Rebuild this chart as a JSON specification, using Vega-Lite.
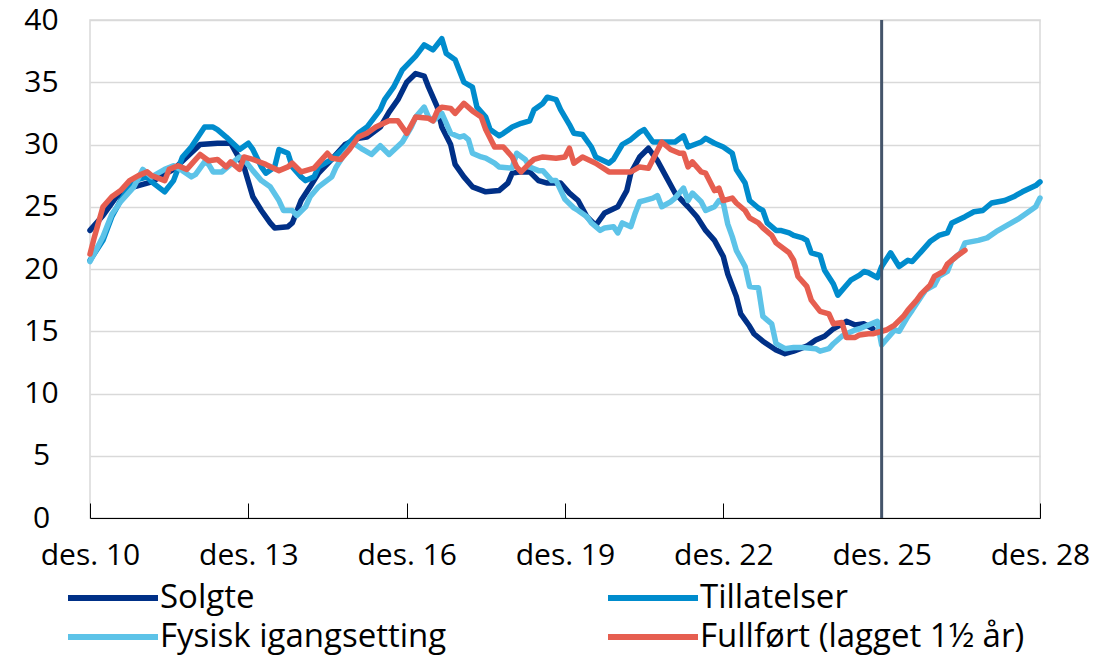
{
  "$schema": "https://vega.github.io/schema/vega-lite/v6.json",
  "autosize": {"type": "none"},
  "width": 950,
  "height": 498,
  "padding": {"left": 90, "top": 20, "right": 59, "bottom": 141},
  "background": "white",
  "config": {
    "font": "Open Sans",
    "view": {"stroke": "#d9d9d9", "strokeWidth": 1.5}
  },
  "datasets": {
    "series": [
      {"d":"2010-12","s":"Solgte","v":23.1},{"d":"2011-03","s":"Solgte","v":24.3},{"d":"2011-06","s":"Solgte","v":25.8},{"d":"2011-10","s":"Solgte","v":26.6},{"d":"2012-02","s":"Solgte","v":27.0},{"d":"2012-07","s":"Solgte","v":28.0},{"d":"2012-10","s":"Solgte","v":29.0},{"d":"2013-01","s":"Solgte","v":30.0},{"d":"2013-05","s":"Solgte","v":30.1},{"d":"2013-08","s":"Solgte","v":30.1},{"d":"2013-11","s":"Solgte","v":28.2},{"d":"2014-01","s":"Solgte","v":25.8},{"d":"2014-03","s":"Solgte","v":24.7},{"d":"2014-05","s":"Solgte","v":23.7},{"d":"2014-06","s":"Solgte","v":23.3},{"d":"2014-09","s":"Solgte","v":23.4},{"d":"2014-10","s":"Solgte","v":23.7},{"d":"2014-12","s":"Solgte","v":25.5},{"d":"2015-02","s":"Solgte","v":26.6},{"d":"2015-04","s":"Solgte","v":27.7},{"d":"2015-07","s":"Solgte","v":28.8},{"d":"2015-10","s":"Solgte","v":30.0},{"d":"2016-01","s":"Solgte","v":30.5},{"d":"2016-03","s":"Solgte","v":30.6},{"d":"2016-06","s":"Solgte","v":31.4},{"d":"2016-08","s":"Solgte","v":32.6},{"d":"2016-10","s":"Solgte","v":33.6},{"d":"2016-12","s":"Solgte","v":35.0},{"d":"2017-02","s":"Solgte","v":35.7},{"d":"2017-04","s":"Solgte","v":35.5},{"d":"2017-05","s":"Solgte","v":34.6},{"d":"2017-07","s":"Solgte","v":33.0},{"d":"2017-08","s":"Solgte","v":31.4},{"d":"2017-10","s":"Solgte","v":30.0},{"d":"2017-11","s":"Solgte","v":28.4},{"d":"2018-01","s":"Solgte","v":27.4},{"d":"2018-03","s":"Solgte","v":26.6},{"d":"2018-06","s":"Solgte","v":26.2},{"d":"2018-09","s":"Solgte","v":26.3},{"d":"2018-11","s":"Solgte","v":26.9},{"d":"2018-12","s":"Solgte","v":27.7},{"d":"2019-02","s":"Solgte","v":27.8},{"d":"2019-04","s":"Solgte","v":27.8},{"d":"2019-06","s":"Solgte","v":27.1},{"d":"2019-08","s":"Solgte","v":26.9},{"d":"2019-11","s":"Solgte","v":26.9},{"d":"2020-01","s":"Solgte","v":26.1},{"d":"2020-03","s":"Solgte","v":25.5},{"d":"2020-05","s":"Solgte","v":24.2},{"d":"2020-07","s":"Solgte","v":23.5},{"d":"2020-09","s":"Solgte","v":24.5},{"d":"2020-12","s":"Solgte","v":25.0},{"d":"2021-02","s":"Solgte","v":26.3},{"d":"2021-03","s":"Solgte","v":27.7},{"d":"2021-05","s":"Solgte","v":29.0},{"d":"2021-07","s":"Solgte","v":29.7},{"d":"2021-09","s":"Solgte","v":28.7},{"d":"2021-11","s":"Solgte","v":27.4},{"d":"2022-01","s":"Solgte","v":26.1},{"d":"2022-04","s":"Solgte","v":25.0},{"d":"2022-06","s":"Solgte","v":24.2},{"d":"2022-08","s":"Solgte","v":23.1},{"d":"2022-10","s":"Solgte","v":22.3},{"d":"2022-12","s":"Solgte","v":21.0},{"d":"2023-01","s":"Solgte","v":19.6},{"d":"2023-03","s":"Solgte","v":17.8},{"d":"2023-04","s":"Solgte","v":16.4},{"d":"2023-06","s":"Solgte","v":15.4},{"d":"2023-07","s":"Solgte","v":14.8},{"d":"2023-09","s":"Solgte","v":14.2},{"d":"2023-12","s":"Solgte","v":13.5},{"d":"2024-02","s":"Solgte","v":13.2},{"d":"2024-04","s":"Solgte","v":13.4},{"d":"2024-07","s":"Solgte","v":13.8},{"d":"2024-09","s":"Solgte","v":14.3},{"d":"2024-11","s":"Solgte","v":14.6},{"d":"2025-01","s":"Solgte","v":15.2},{"d":"2025-04","s":"Solgte","v":15.8},{"d":"2025-06","s":"Solgte","v":15.5},{"d":"2025-08","s":"Solgte","v":15.6},{"d":"2025-10","s":"Solgte","v":15.2},
      {"d":"2010-12","s":"Tillatelser","v":20.7},{"d":"2011-03","s":"Tillatelser","v":22.3},{"d":"2011-05","s":"Tillatelser","v":24.2},{"d":"2011-07","s":"Tillatelser","v":25.5},{"d":"2011-10","s":"Tillatelser","v":27.1},{"d":"2012-01","s":"Tillatelser","v":27.4},{"d":"2012-02","s":"Tillatelser","v":27.0},{"d":"2012-05","s":"Tillatelser","v":26.2},{"d":"2012-07","s":"Tillatelser","v":27.1},{"d":"2012-09","s":"Tillatelser","v":29.0},{"d":"2012-11","s":"Tillatelser","v":29.8},{"d":"2013-02","s":"Tillatelser","v":31.4},{"d":"2013-04","s":"Tillatelser","v":31.4},{"d":"2013-05","s":"Tillatelser","v":31.2},{"d":"2013-07","s":"Tillatelser","v":30.6},{"d":"2013-10","s":"Tillatelser","v":29.6},{"d":"2013-12","s":"Tillatelser","v":30.1},{"d":"2014-01","s":"Tillatelser","v":29.6},{"d":"2014-03","s":"Tillatelser","v":28.2},{"d":"2014-04","s":"Tillatelser","v":27.7},{"d":"2014-06","s":"Tillatelser","v":28.2},{"d":"2014-07","s":"Tillatelser","v":29.6},{"d":"2014-09","s":"Tillatelser","v":29.3},{"d":"2014-10","s":"Tillatelser","v":28.2},{"d":"2014-12","s":"Tillatelser","v":27.4},{"d":"2015-01","s":"Tillatelser","v":27.1},{"d":"2015-03","s":"Tillatelser","v":27.4},{"d":"2015-04","s":"Tillatelser","v":28.2},{"d":"2015-07","s":"Tillatelser","v":28.8},{"d":"2015-10","s":"Tillatelser","v":29.8},{"d":"2016-01","s":"Tillatelser","v":30.9},{"d":"2016-03","s":"Tillatelser","v":31.4},{"d":"2016-06","s":"Tillatelser","v":32.8},{"d":"2016-07","s":"Tillatelser","v":33.6},{"d":"2016-09","s":"Tillatelser","v":34.6},{"d":"2016-11","s":"Tillatelser","v":36.0},{"d":"2017-02","s":"Tillatelser","v":37.1},{"d":"2017-04","s":"Tillatelser","v":38.0},{"d":"2017-06","s":"Tillatelser","v":37.6},{"d":"2017-08","s":"Tillatelser","v":38.5},{"d":"2017-09","s":"Tillatelser","v":37.3},{"d":"2017-11","s":"Tillatelser","v":36.8},{"d":"2018-01","s":"Tillatelser","v":35.0},{"d":"2018-03","s":"Tillatelser","v":34.6},{"d":"2018-04","s":"Tillatelser","v":33.0},{"d":"2018-06","s":"Tillatelser","v":32.2},{"d":"2018-07","s":"Tillatelser","v":31.2},{"d":"2018-09","s":"Tillatelser","v":30.7},{"d":"2018-10","s":"Tillatelser","v":30.9},{"d":"2018-12","s":"Tillatelser","v":31.4},{"d":"2019-02","s":"Tillatelser","v":31.7},{"d":"2019-04","s":"Tillatelser","v":31.9},{"d":"2019-05","s":"Tillatelser","v":32.8},{"d":"2019-07","s":"Tillatelser","v":33.3},{"d":"2019-08","s":"Tillatelser","v":33.8},{"d":"2019-10","s":"Tillatelser","v":33.6},{"d":"2019-11","s":"Tillatelser","v":32.8},{"d":"2020-01","s":"Tillatelser","v":31.6},{"d":"2020-02","s":"Tillatelser","v":30.9},{"d":"2020-04","s":"Tillatelser","v":30.8},{"d":"2020-06","s":"Tillatelser","v":29.8},{"d":"2020-07","s":"Tillatelser","v":29.0},{"d":"2020-10","s":"Tillatelser","v":28.5},{"d":"2020-11","s":"Tillatelser","v":28.8},{"d":"2021-01","s":"Tillatelser","v":30.0},{"d":"2021-03","s":"Tillatelser","v":30.4},{"d":"2021-05","s":"Tillatelser","v":31.0},{"d":"2021-06","s":"Tillatelser","v":31.2},{"d":"2021-08","s":"Tillatelser","v":30.2},{"d":"2021-10","s":"Tillatelser","v":30.2},{"d":"2022-01","s":"Tillatelser","v":30.2},{"d":"2022-03","s":"Tillatelser","v":30.7},{"d":"2022-04","s":"Tillatelser","v":29.8},{"d":"2022-07","s":"Tillatelser","v":30.2},{"d":"2022-08","s":"Tillatelser","v":30.5},{"d":"2022-10","s":"Tillatelser","v":30.1},{"d":"2022-12","s":"Tillatelser","v":29.8},{"d":"2023-02","s":"Tillatelser","v":29.3},{"d":"2023-03","s":"Tillatelser","v":28.0},{"d":"2023-05","s":"Tillatelser","v":26.9},{"d":"2023-06","s":"Tillatelser","v":25.5},{"d":"2023-08","s":"Tillatelser","v":24.9},{"d":"2023-09","s":"Tillatelser","v":24.7},{"d":"2023-10","s":"Tillatelser","v":23.7},{"d":"2023-12","s":"Tillatelser","v":23.1},{"d":"2024-01","s":"Tillatelser","v":23.1},{"d":"2024-03","s":"Tillatelser","v":22.9},{"d":"2024-04","s":"Tillatelser","v":22.7},{"d":"2024-06","s":"Tillatelser","v":22.5},{"d":"2024-07","s":"Tillatelser","v":22.3},{"d":"2024-08","s":"Tillatelser","v":21.3},{"d":"2024-10","s":"Tillatelser","v":21.1},{"d":"2024-11","s":"Tillatelser","v":19.9},{"d":"2025-01","s":"Tillatelser","v":18.8},{"d":"2025-02","s":"Tillatelser","v":17.9},{"d":"2025-04","s":"Tillatelser","v":18.7},{"d":"2025-05","s":"Tillatelser","v":19.1},{"d":"2025-07","s":"Tillatelser","v":19.5},{"d":"2025-08","s":"Tillatelser","v":19.8},{"d":"2025-09","s":"Tillatelser","v":19.7},{"d":"2025-11","s":"Tillatelser","v":19.3},{"d":"2025-12","s":"Tillatelser","v":20.2},{"d":"2026-02","s":"Tillatelser","v":21.3},{"d":"2026-04","s":"Tillatelser","v":20.2},{"d":"2026-06","s":"Tillatelser","v":20.7},{"d":"2026-07","s":"Tillatelser","v":20.6},{"d":"2026-09","s":"Tillatelser","v":21.4},{"d":"2026-11","s":"Tillatelser","v":22.2},{"d":"2027-01","s":"Tillatelser","v":22.7},{"d":"2027-03","s":"Tillatelser","v":22.9},{"d":"2027-04","s":"Tillatelser","v":23.7},{"d":"2027-07","s":"Tillatelser","v":24.2},{"d":"2027-09","s":"Tillatelser","v":24.6},{"d":"2027-11","s":"Tillatelser","v":24.7},{"d":"2028-01","s":"Tillatelser","v":25.3},{"d":"2028-04","s":"Tillatelser","v":25.5},{"d":"2028-06","s":"Tillatelser","v":25.8},{"d":"2028-08","s":"Tillatelser","v":26.2},{"d":"2028-11","s":"Tillatelser","v":26.7},{"d":"2028-12","s":"Tillatelser","v":27.0},
      {"d":"2010-12","s":"Fysisk igangsetting","v":20.6},{"d":"2011-03","s":"Fysisk igangsetting","v":22.6},{"d":"2011-05","s":"Fysisk igangsetting","v":24.4},{"d":"2011-07","s":"Fysisk igangsetting","v":25.4},{"d":"2011-10","s":"Fysisk igangsetting","v":26.6},{"d":"2011-12","s":"Fysisk igangsetting","v":28.0},{"d":"2012-02","s":"Fysisk igangsetting","v":27.4},{"d":"2012-04","s":"Fysisk igangsetting","v":27.8},{"d":"2012-05","s":"Fysisk igangsetting","v":28.0},{"d":"2012-07","s":"Fysisk igangsetting","v":28.3},{"d":"2012-09","s":"Fysisk igangsetting","v":27.9},{"d":"2012-11","s":"Fysisk igangsetting","v":27.4},{"d":"2012-12","s":"Fysisk igangsetting","v":27.6},{"d":"2013-02","s":"Fysisk igangsetting","v":28.6},{"d":"2013-03","s":"Fysisk igangsetting","v":28.4},{"d":"2013-04","s":"Fysisk igangsetting","v":27.8},{"d":"2013-06","s":"Fysisk igangsetting","v":27.8},{"d":"2013-08","s":"Fysisk igangsetting","v":28.4},{"d":"2013-10","s":"Fysisk igangsetting","v":29.0},{"d":"2013-11","s":"Fysisk igangsetting","v":28.8},{"d":"2014-01","s":"Fysisk igangsetting","v":27.9},{"d":"2014-03","s":"Fysisk igangsetting","v":27.1},{"d":"2014-05","s":"Fysisk igangsetting","v":26.6},{"d":"2014-07","s":"Fysisk igangsetting","v":25.5},{"d":"2014-08","s":"Fysisk igangsetting","v":24.7},{"d":"2014-10","s":"Fysisk igangsetting","v":24.7},{"d":"2014-11","s":"Fysisk igangsetting","v":24.3},{"d":"2015-01","s":"Fysisk igangsetting","v":25.0},{"d":"2015-02","s":"Fysisk igangsetting","v":25.8},{"d":"2015-04","s":"Fysisk igangsetting","v":26.6},{"d":"2015-07","s":"Fysisk igangsetting","v":27.4},{"d":"2015-08","s":"Fysisk igangsetting","v":28.2},{"d":"2015-10","s":"Fysisk igangsetting","v":29.3},{"d":"2015-12","s":"Fysisk igangsetting","v":30.1},{"d":"2016-02","s":"Fysisk igangsetting","v":29.6},{"d":"2016-04","s":"Fysisk igangsetting","v":29.2},{"d":"2016-06","s":"Fysisk igangsetting","v":29.9},{"d":"2016-08","s":"Fysisk igangsetting","v":29.2},{"d":"2016-11","s":"Fysisk igangsetting","v":30.2},{"d":"2017-01","s":"Fysisk igangsetting","v":31.4},{"d":"2017-02","s":"Fysisk igangsetting","v":32.2},{"d":"2017-04","s":"Fysisk igangsetting","v":33.0},{"d":"2017-05","s":"Fysisk igangsetting","v":32.2},{"d":"2017-06","s":"Fysisk igangsetting","v":31.9},{"d":"2017-08","s":"Fysisk igangsetting","v":32.5},{"d":"2017-09","s":"Fysisk igangsetting","v":31.7},{"d":"2017-10","s":"Fysisk igangsetting","v":30.9},{"d":"2017-12","s":"Fysisk igangsetting","v":30.6},{"d":"2018-01","s":"Fysisk igangsetting","v":30.7},{"d":"2018-02","s":"Fysisk igangsetting","v":30.4},{"d":"2018-03","s":"Fysisk igangsetting","v":29.3},{"d":"2018-05","s":"Fysisk igangsetting","v":29.0},{"d":"2018-06","s":"Fysisk igangsetting","v":28.9},{"d":"2018-08","s":"Fysisk igangsetting","v":28.5},{"d":"2018-09","s":"Fysisk igangsetting","v":28.2},{"d":"2018-12","s":"Fysisk igangsetting","v":28.1},{"d":"2019-01","s":"Fysisk igangsetting","v":29.3},{"d":"2019-03","s":"Fysisk igangsetting","v":28.8},{"d":"2019-04","s":"Fysisk igangsetting","v":28.2},{"d":"2019-06","s":"Fysisk igangsetting","v":27.9},{"d":"2019-07","s":"Fysisk igangsetting","v":27.9},{"d":"2019-09","s":"Fysisk igangsetting","v":27.1},{"d":"2019-10","s":"Fysisk igangsetting","v":27.1},{"d":"2019-12","s":"Fysisk igangsetting","v":25.6},{"d":"2020-02","s":"Fysisk igangsetting","v":24.9},{"d":"2020-03","s":"Fysisk igangsetting","v":24.7},{"d":"2020-05","s":"Fysisk igangsetting","v":24.2},{"d":"2020-06","s":"Fysisk igangsetting","v":23.7},{"d":"2020-08","s":"Fysisk igangsetting","v":23.1},{"d":"2020-09","s":"Fysisk igangsetting","v":23.3},{"d":"2020-11","s":"Fysisk igangsetting","v":23.4},{"d":"2020-12","s":"Fysisk igangsetting","v":22.9},{"d":"2021-01","s":"Fysisk igangsetting","v":23.7},{"d":"2021-03","s":"Fysisk igangsetting","v":23.4},{"d":"2021-04","s":"Fysisk igangsetting","v":24.5},{"d":"2021-05","s":"Fysisk igangsetting","v":25.4},{"d":"2021-06","s":"Fysisk igangsetting","v":25.5},{"d":"2021-08","s":"Fysisk igangsetting","v":25.7},{"d":"2021-09","s":"Fysisk igangsetting","v":25.9},{"d":"2021-10","s":"Fysisk igangsetting","v":25.0},{"d":"2021-12","s":"Fysisk igangsetting","v":25.4},{"d":"2022-01","s":"Fysisk igangsetting","v":25.7},{"d":"2022-03","s":"Fysisk igangsetting","v":26.5},{"d":"2022-04","s":"Fysisk igangsetting","v":25.5},{"d":"2022-05","s":"Fysisk igangsetting","v":26.1},{"d":"2022-07","s":"Fysisk igangsetting","v":25.4},{"d":"2022-08","s":"Fysisk igangsetting","v":24.7},{"d":"2022-10","s":"Fysisk igangsetting","v":25.0},{"d":"2022-11","s":"Fysisk igangsetting","v":25.5},{"d":"2022-12","s":"Fysisk igangsetting","v":25.3},{"d":"2023-01","s":"Fysisk igangsetting","v":23.6},{"d":"2023-02","s":"Fysisk igangsetting","v":22.6},{"d":"2023-03","s":"Fysisk igangsetting","v":21.5},{"d":"2023-05","s":"Fysisk igangsetting","v":20.2},{"d":"2023-06","s":"Fysisk igangsetting","v":18.6},{"d":"2023-08","s":"Fysisk igangsetting","v":18.5},{"d":"2023-09","s":"Fysisk igangsetting","v":16.2},{"d":"2023-11","s":"Fysisk igangsetting","v":15.6},{"d":"2023-12","s":"Fysisk igangsetting","v":14.0},{"d":"2024-02","s":"Fysisk igangsetting","v":13.6},{"d":"2024-04","s":"Fysisk igangsetting","v":13.7},{"d":"2024-06","s":"Fysisk igangsetting","v":13.7},{"d":"2024-09","s":"Fysisk igangsetting","v":13.6},{"d":"2024-10","s":"Fysisk igangsetting","v":13.4},{"d":"2024-12","s":"Fysisk igangsetting","v":13.6},{"d":"2025-01","s":"Fysisk igangsetting","v":14.0},{"d":"2025-03","s":"Fysisk igangsetting","v":14.6},{"d":"2025-04","s":"Fysisk igangsetting","v":14.8},{"d":"2025-06","s":"Fysisk igangsetting","v":15.1},{"d":"2025-07","s":"Fysisk igangsetting","v":15.2},{"d":"2025-09","s":"Fysisk igangsetting","v":15.5},{"d":"2025-11","s":"Fysisk igangsetting","v":15.8},{"d":"2025-12","s":"Fysisk igangsetting","v":13.9},{"d":"2026-03","s":"Fysisk igangsetting","v":15.1},{"d":"2026-04","s":"Fysisk igangsetting","v":15.0},{"d":"2026-06","s":"Fysisk igangsetting","v":16.2},{"d":"2026-07","s":"Fysisk igangsetting","v":16.7},{"d":"2026-09","s":"Fysisk igangsetting","v":17.8},{"d":"2026-10","s":"Fysisk igangsetting","v":18.3},{"d":"2026-12","s":"Fysisk igangsetting","v":18.7},{"d":"2027-01","s":"Fysisk igangsetting","v":19.4},{"d":"2027-03","s":"Fysisk igangsetting","v":19.8},{"d":"2027-04","s":"Fysisk igangsetting","v":20.7},{"d":"2027-06","s":"Fysisk igangsetting","v":21.3},{"d":"2027-07","s":"Fysisk igangsetting","v":22.1},{"d":"2027-10","s":"Fysisk igangsetting","v":22.3},{"d":"2027-12","s":"Fysisk igangsetting","v":22.5},{"d":"2028-02","s":"Fysisk igangsetting","v":23.0},{"d":"2028-04","s":"Fysisk igangsetting","v":23.4},{"d":"2028-07","s":"Fysisk igangsetting","v":24.0},{"d":"2028-09","s":"Fysisk igangsetting","v":24.5},{"d":"2028-11","s":"Fysisk igangsetting","v":25.0},{"d":"2028-12","s":"Fysisk igangsetting","v":25.7},
      {"d":"2010-12","s":"Fullført (lagget 1½ år)","v":21.2},{"d":"2011-01","s":"Fullført (lagget 1½ år)","v":22.6},{"d":"2011-03","s":"Fullført (lagget 1½ år)","v":25.0},{"d":"2011-05","s":"Fullført (lagget 1½ år)","v":25.8},{"d":"2011-07","s":"Fullført (lagget 1½ år)","v":26.3},{"d":"2011-09","s":"Fullført (lagget 1½ år)","v":27.1},{"d":"2011-11","s":"Fullført (lagget 1½ år)","v":27.5},{"d":"2012-01","s":"Fullført (lagget 1½ år)","v":27.8},{"d":"2012-02","s":"Fullført (lagget 1½ år)","v":27.5},{"d":"2012-05","s":"Fullført (lagget 1½ år)","v":27.1},{"d":"2012-06","s":"Fullført (lagget 1½ år)","v":28.0},{"d":"2012-08","s":"Fullført (lagget 1½ år)","v":28.3},{"d":"2012-10","s":"Fullført (lagget 1½ år)","v":28.0},{"d":"2012-11","s":"Fullført (lagget 1½ år)","v":28.4},{"d":"2013-01","s":"Fullført (lagget 1½ år)","v":29.2},{"d":"2013-03","s":"Fullført (lagget 1½ år)","v":28.7},{"d":"2013-05","s":"Fullført (lagget 1½ år)","v":28.8},{"d":"2013-07","s":"Fullført (lagget 1½ år)","v":28.2},{"d":"2013-08","s":"Fullført (lagget 1½ år)","v":28.6},{"d":"2013-10","s":"Fullført (lagget 1½ år)","v":28.0},{"d":"2013-11","s":"Fullført (lagget 1½ år)","v":29.0},{"d":"2014-01","s":"Fullført (lagget 1½ år)","v":28.8},{"d":"2014-04","s":"Fullført (lagget 1½ år)","v":28.4},{"d":"2014-07","s":"Fullført (lagget 1½ år)","v":27.9},{"d":"2014-09","s":"Fullført (lagget 1½ år)","v":28.2},{"d":"2014-10","s":"Fullført (lagget 1½ år)","v":28.5},{"d":"2014-12","s":"Fullført (lagget 1½ år)","v":27.8},{"d":"2015-01","s":"Fullført (lagget 1½ år)","v":27.9},{"d":"2015-03","s":"Fullført (lagget 1½ år)","v":28.1},{"d":"2015-04","s":"Fullført (lagget 1½ år)","v":28.5},{"d":"2015-06","s":"Fullført (lagget 1½ år)","v":29.3},{"d":"2015-07","s":"Fullført (lagget 1½ år)","v":28.9},{"d":"2015-09","s":"Fullført (lagget 1½ år)","v":28.8},{"d":"2015-11","s":"Fullført (lagget 1½ år)","v":29.6},{"d":"2016-01","s":"Fullført (lagget 1½ år)","v":30.6},{"d":"2016-03","s":"Fullført (lagget 1½ år)","v":30.9},{"d":"2016-05","s":"Fullført (lagget 1½ år)","v":31.4},{"d":"2016-08","s":"Fullført (lagget 1½ år)","v":31.9},{"d":"2016-10","s":"Fullført (lagget 1½ år)","v":31.9},{"d":"2016-12","s":"Fullført (lagget 1½ år)","v":30.9},{"d":"2017-02","s":"Fullført (lagget 1½ år)","v":32.2},{"d":"2017-05","s":"Fullført (lagget 1½ år)","v":32.1},{"d":"2017-06","s":"Fullført (lagget 1½ år)","v":31.9},{"d":"2017-07","s":"Fullført (lagget 1½ år)","v":32.7},{"d":"2017-08","s":"Fullført (lagget 1½ år)","v":33.0},{"d":"2017-10","s":"Fullført (lagget 1½ år)","v":32.9},{"d":"2017-11","s":"Fullført (lagget 1½ år)","v":32.5},{"d":"2018-01","s":"Fullført (lagget 1½ år)","v":33.3},{"d":"2018-03","s":"Fullført (lagget 1½ år)","v":32.7},{"d":"2018-05","s":"Fullført (lagget 1½ år)","v":32.2},{"d":"2018-06","s":"Fullført (lagget 1½ år)","v":31.2},{"d":"2018-08","s":"Fullført (lagget 1½ år)","v":29.8},{"d":"2018-10","s":"Fullført (lagget 1½ år)","v":29.8},{"d":"2018-12","s":"Fullført (lagget 1½ år)","v":29.0},{"d":"2019-01","s":"Fullført (lagget 1½ år)","v":28.2},{"d":"2019-02","s":"Fullført (lagget 1½ år)","v":27.8},{"d":"2019-04","s":"Fullført (lagget 1½ år)","v":28.5},{"d":"2019-05","s":"Fullført (lagget 1½ år)","v":28.8},{"d":"2019-07","s":"Fullført (lagget 1½ år)","v":29.0},{"d":"2019-10","s":"Fullført (lagget 1½ år)","v":28.9},{"d":"2019-12","s":"Fullført (lagget 1½ år)","v":29.0},{"d":"2020-01","s":"Fullført (lagget 1½ år)","v":29.7},{"d":"2020-02","s":"Fullført (lagget 1½ år)","v":28.5},{"d":"2020-04","s":"Fullført (lagget 1½ år)","v":29.0},{"d":"2020-07","s":"Fullført (lagget 1½ år)","v":28.5},{"d":"2020-10","s":"Fullført (lagget 1½ år)","v":27.8},{"d":"2021-01","s":"Fullført (lagget 1½ år)","v":27.8},{"d":"2021-03","s":"Fullført (lagget 1½ år)","v":27.8},{"d":"2021-05","s":"Fullført (lagget 1½ år)","v":28.2},{"d":"2021-07","s":"Fullført (lagget 1½ år)","v":28.1},{"d":"2021-08","s":"Fullført (lagget 1½ år)","v":28.8},{"d":"2021-10","s":"Fullført (lagget 1½ år)","v":30.2},{"d":"2021-12","s":"Fullført (lagget 1½ år)","v":29.6},{"d":"2022-02","s":"Fullført (lagget 1½ år)","v":29.3},{"d":"2022-03","s":"Fullført (lagget 1½ år)","v":29.3},{"d":"2022-04","s":"Fullført (lagget 1½ år)","v":28.2},{"d":"2022-05","s":"Fullført (lagget 1½ år)","v":28.6},{"d":"2022-07","s":"Fullført (lagget 1½ år)","v":27.8},{"d":"2022-08","s":"Fullført (lagget 1½ år)","v":27.7},{"d":"2022-10","s":"Fullført (lagget 1½ år)","v":26.3},{"d":"2022-11","s":"Fullført (lagget 1½ år)","v":26.5},{"d":"2022-12","s":"Fullført (lagget 1½ år)","v":25.5},{"d":"2023-02","s":"Fullført (lagget 1½ år)","v":25.7},{"d":"2023-03","s":"Fullført (lagget 1½ år)","v":25.3},{"d":"2023-05","s":"Fullført (lagget 1½ år)","v":24.7},{"d":"2023-06","s":"Fullført (lagget 1½ år)","v":24.1},{"d":"2023-08","s":"Fullført (lagget 1½ år)","v":23.7},{"d":"2023-09","s":"Fullført (lagget 1½ år)","v":23.3},{"d":"2023-11","s":"Fullført (lagget 1½ år)","v":22.7},{"d":"2023-12","s":"Fullført (lagget 1½ år)","v":22.1},{"d":"2024-03","s":"Fullført (lagget 1½ år)","v":21.3},{"d":"2024-04","s":"Fullført (lagget 1½ år)","v":20.7},{"d":"2024-05","s":"Fullført (lagget 1½ år)","v":19.4},{"d":"2024-07","s":"Fullført (lagget 1½ år)","v":18.6},{"d":"2024-08","s":"Fullført (lagget 1½ år)","v":17.5},{"d":"2024-10","s":"Fullført (lagget 1½ år)","v":16.6},{"d":"2024-12","s":"Fullført (lagget 1½ år)","v":16.4},{"d":"2025-01","s":"Fullført (lagget 1½ år)","v":15.6},{"d":"2025-03","s":"Fullført (lagget 1½ år)","v":15.7},{"d":"2025-04","s":"Fullført (lagget 1½ år)","v":14.5},{"d":"2025-06","s":"Fullført (lagget 1½ år)","v":14.5},{"d":"2025-07","s":"Fullført (lagget 1½ år)","v":14.7},{"d":"2025-09","s":"Fullført (lagget 1½ år)","v":14.8},{"d":"2025-10","s":"Fullført (lagget 1½ år)","v":14.8},{"d":"2025-12","s":"Fullført (lagget 1½ år)","v":15.0},{"d":"2026-01","s":"Fullført (lagget 1½ år)","v":15.1},{"d":"2026-03","s":"Fullført (lagget 1½ år)","v":15.5},{"d":"2026-05","s":"Fullført (lagget 1½ år)","v":16.2},{"d":"2026-06","s":"Fullført (lagget 1½ år)","v":16.7},{"d":"2026-08","s":"Fullført (lagget 1½ år)","v":17.5},{"d":"2026-09","s":"Fullført (lagget 1½ år)","v":18.0},{"d":"2026-11","s":"Fullført (lagget 1½ år)","v":18.7},{"d":"2026-12","s":"Fullført (lagget 1½ år)","v":19.4},{"d":"2027-02","s":"Fullført (lagget 1½ år)","v":19.8},{"d":"2027-03","s":"Fullført (lagget 1½ år)","v":20.4},{"d":"2027-05","s":"Fullført (lagget 1½ år)","v":21.0},{"d":"2027-07","s":"Fullført (lagget 1½ år)","v":21.5}
    ],
    "marker": [{"d": "2025-12"}]
  },
  "layer": [
    {
      "data": {"name": "series"},
      "mark": {"type": "line", "strokeWidth": 5.5, "strokeJoin": "round", "strokeCap": "round"},
      "encoding": {
        "x": {
          "field": "d", "type": "temporal",
          "scale": {"type": "utc", "domain": [{"year": 2010, "month": 12, "date": 1, "utc": true}, {"year": 2028, "month": 12, "date": 1, "utc": true}]},
          "axis": {
            "title": null,
            "values": [
              {"year": 2010, "month": 12, "date": 1, "utc": true},
              {"year": 2013, "month": 12, "date": 1, "utc": true},
              {"year": 2016, "month": 12, "date": 1, "utc": true},
              {"year": 2019, "month": 12, "date": 1, "utc": true},
              {"year": 2022, "month": 12, "date": 1, "utc": true},
              {"year": 2025, "month": 12, "date": 1, "utc": true},
              {"year": 2028, "month": 12, "date": 1, "utc": true}
            ],
            "labelExpr": "'des. ' + utcFormat(datum.value, '%y')",
            "grid": false,
            "domainColor": "#000000",
            "domainWidth": 1,
            "tickColor": "#000000",
            "tickSize": -15,
            "labelPadding": 37,
            "labelFontSize": 30,
            "labelColor": "#000000",
            "labelFont": "Open Sans",
            "labelFlush": false,
            "labelOverlap": false
          }
        },
        "y": {
          "field": "v", "type": "quantitative",
          "scale": {"domain": [0, 40], "nice": false, "zero": true},
          "axis": {
            "title": null,
            "values": [0, 5, 10, 15, 20, 25, 30, 35, 40],
            "domain": false,
            "ticks": false,
            "grid": true,
            "gridColor": "#d9d9d9",
            "gridWidth": 1.5,
            "labelAlign": "center",
            "labelPadding": 49,
            "labelFontSize": 30,
            "labelColor": "#000000",
            "labelFont": "Open Sans"
          }
        },
        "color": {
          "field": "s", "type": "nominal",
          "scale": {
            "domain": ["Solgte", "Tillatelser", "Fysisk igangsetting", "Fullført (lagget 1½ år)"],
            "range": ["#003087", "#008ccd", "#5dc3e8", "#e65e50"]
          },
          "legend": {
            "title": null,
            "orient": "none",
            "direction": "horizontal",
            "legendX": 5,
            "legendY": 560,
            "columns": 2,
            "columnPadding": 149,
            "rowPadding": 4,
            "symbolType": "M-3,0H3",
            "symbolSize": 900,
            "symbolStrokeWidth": 6,
            "symbolFillColor": "transparent",
            "labelFontSize": 33,
            "labelFont": "Open Sans",
            "labelColor": "#000000",
            "labelOffset": 29,
            "labelLimit": 600
          }
        }
      }
    },
    {
      "data": {"name": "marker"},
      "mark": {"type": "rule", "color": "#44546a", "strokeWidth": 3},
      "encoding": {
        "x": {"field": "d", "type": "temporal"}
      }
    }
  ]
}
